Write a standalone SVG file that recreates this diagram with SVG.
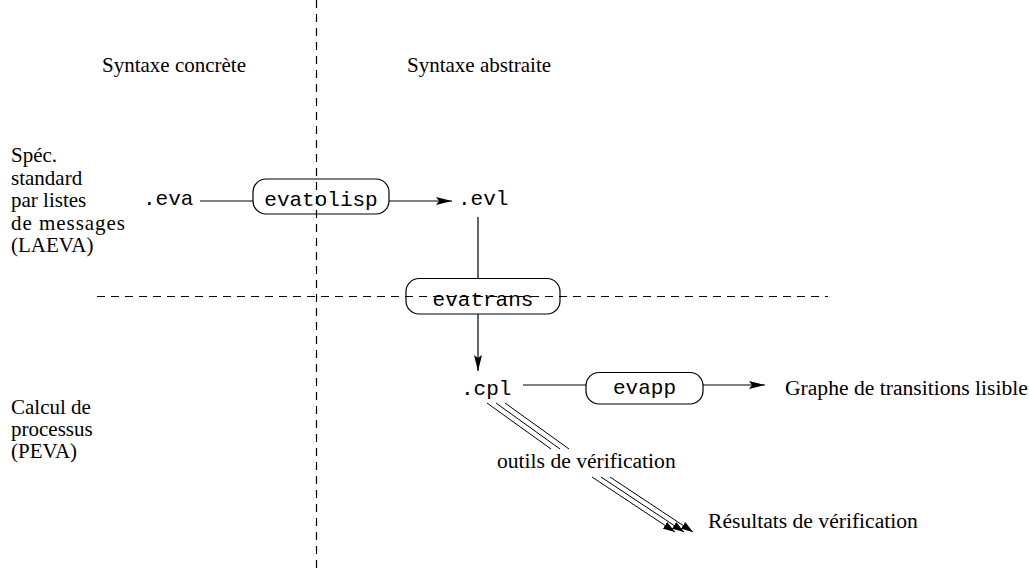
<svg xmlns="http://www.w3.org/2000/svg" width="1029" height="574" viewBox="0 0 1029 574">
<style>
.t{font-family:"Liberation Serif","Times New Roman",serif;font-size:21px;fill:#000}
.t2{font-family:"Liberation Serif","Times New Roman",serif;font-size:21.6px;fill:#000}
.m{font-family:"Liberation Mono","Courier New",monospace;font-size:21px;fill:#000}
.box{fill:none;stroke:#000;stroke-width:1.2}
.ln{fill:none;stroke:#000;stroke-width:1.2}
.dash{fill:none;stroke:#000;stroke-width:1.2;stroke-dasharray:8 6}
</style>
<defs>
<marker id="ah" viewBox="0 0 16 8" refX="16" refY="4" markerWidth="16" markerHeight="8" markerUnits="userSpaceOnUse" orient="auto">
<path d="M0,0 L16,4 L0,8 L3,4 Z" fill="#000"/>
</marker>
<marker id="ahs" viewBox="0 0 12 8" refX="12" refY="4" markerWidth="12" markerHeight="8" markerUnits="userSpaceOnUse" orient="auto">
<path d="M0,0 L12,4 L0,8 Z" fill="#000"/>
</marker>
</defs>
<rect width="1029" height="574" fill="#fff"/>
<g id="dividers">
<line class="dash" x1="316.5" y1="0" x2="316.5" y2="574"/>
<line class="dash" x1="97" y1="296.5" x2="828" y2="296.5"/>
</g>
<g id="headings">
<text class="t" x="102" y="72">Syntaxe concrète</text>
<text class="t" x="407" y="72">Syntaxe abstraite</text>
</g>
<g id="laeva">
<text class="t" x="11" y="162">Spéc.</text>
<text class="t" x="11" y="184.5">standard</text>
<text class="t" x="11" y="207">par listes</text>
<text class="t" x="11" y="229.5" textLength="114" lengthAdjust="spacing">de messages</text>
<text class="t" x="11" y="252">(LAEVA)</text>
</g>
<g id="peva">
<text class="t" x="11" y="414">Calcul de</text>
<text class="t" x="11" y="436">processus</text>
<text class="t" x="11" y="458">(PEVA)</text>
</g>
<g id="eva"><text class="m" x="143" y="205">.eva</text></g>
<g id="evatolisp">
<rect class="box" x="253" y="179" width="136" height="35" rx="13"/>
<text class="m" x="321" y="206" text-anchor="middle">evatolisp</text>
</g>
<g id="evl"><text class="m" x="458" y="205">.evl</text></g>
<g id="evatrans">
<rect class="box" x="406" y="278.5" width="154" height="35.5" rx="13"/>
<text class="m" x="483" y="306" text-anchor="middle">evatrans</text>
</g>
<g id="cpl"><text class="m" x="461" y="395">.cpl</text></g>
<g id="evapp">
<rect class="box" x="586" y="372.5" width="117" height="31.5" rx="13"/>
<text class="m" x="644.5" y="394" text-anchor="middle">evapp</text>
</g>
<g id="graphe"><text class="t2" x="785" y="395">Graphe de transitions lisible</text></g>
<g id="outils"><text class="t2" x="497" y="468">outils de vérification</text></g>
<g id="resultats"><text class="t2" x="708" y="528">Résultats de vérification</text></g>
<g id="connectors">
<line class="ln" x1="200" y1="201" x2="253" y2="201"/>
<line class="ln" x1="389" y1="201" x2="452" y2="201" marker-end="url(#ah)"/>
<line class="ln" x1="478" y1="217" x2="478" y2="278.5"/>
<line class="ln" x1="478" y1="314" x2="478" y2="371" marker-end="url(#ah)"/>
<line class="ln" x1="523" y1="385" x2="586" y2="385"/>
<line class="ln" x1="703" y1="385" x2="765" y2="385" marker-end="url(#ah)"/>
<g stroke="#000" stroke-width="1" fill="none">
<line x1="487" y1="403" x2="551" y2="449"/>
<line x1="496" y1="403" x2="560" y2="449"/>
<line x1="505" y1="403" x2="569" y2="449"/>
<line x1="592" y1="477" x2="675" y2="532" marker-end="url(#ahs)"/>
<line x1="601" y1="477" x2="684" y2="532" marker-end="url(#ahs)"/>
<line x1="610" y1="477" x2="693" y2="532" marker-end="url(#ahs)"/>
</g>
</g>
</svg>
